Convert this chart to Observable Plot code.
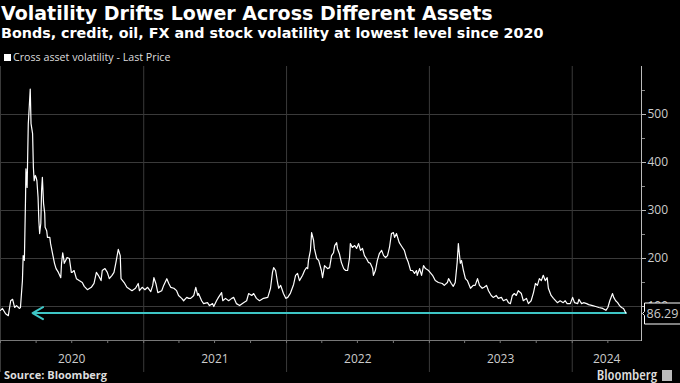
<!DOCTYPE html>
<html>
<head>
<meta charset="utf-8">
<script src="https://cdn.jsdelivr.net/npm/d3@7"></script>
<script src="https://cdn.jsdelivr.net/npm/@observablehq/plot@0.6"></script>
<style>
  html, body { margin: 0; padding: 0; background: #000; }
  #wrap { position: relative; width: 680px; height: 383px; overflow: hidden; background: #000; font-family: "Open Sans", sans-serif; color: #fff; }
  #title { position: absolute; left: 1px; top: 2px; font-family: "DejaVu Sans", sans-serif; font-weight: 700; font-size: 19px; line-height: 22px; white-space: nowrap; }
  #subtitle { position: absolute; left: 1px; top: 24px; font-family: "DejaVu Sans", sans-serif; font-weight: 700; font-size: 14.3px; line-height: 18px; white-space: nowrap; }
  #legend { position: absolute; left: 4px; top: 50px; font-size: 10.7px; line-height: 14px; color: #ddd; white-space: nowrap; }
  #legend .sw { display: inline-block; width: 7px; height: 7px; background: #fff; margin-right: 2px; vertical-align: 0px; }
  #chart { position: absolute; left: 0; top: 66px; }
  #source { position: absolute; left: 4px; top: 368px; font-weight: 700; font-size: 11px; line-height: 14px; color: #ddd; white-space: nowrap; }
  #brand { position: absolute; right: 8px; top: 366px; font-weight: 600; font-size: 15px; font-stretch: 75%; line-height: 16px; color: #ddd; white-space: nowrap; }
  #brand .ic { display: inline-block; width: 10px; height: 11px; background: #bbb; margin-left: 5px; vertical-align: -1px; }
</style>
</head>
<body>
<div id="wrap">
  <div id="title">Volatility Drifts Lower Across Different Assets</div>
  <div id="subtitle">Bonds, credit, oil, FX and stock volatility at lowest level since 2020</div>
  <div id="legend"><span class="sw"></span>Cross asset volatility - Last Price</div>
  <div id="chart"></div>
  <div id="source">Source: Bloomberg</div>
  <div id="brand">Bloomberg<span class="ic"></span></div>
</div>
<script>
const dates = [
  "2020-01-01","2020-01-06","2020-01-14","2020-01-21","2020-01-27","2020-02-01","2020-02-06","2020-02-11","2020-02-18","2020-02-21",
  "2020-02-26","2020-02-28","2020-03-02","2020-03-05","2020-03-06","2020-03-09","2020-03-12","2020-03-13","2020-03-17","2020-03-19",
  "2020-03-23","2020-03-25","2020-03-27","2020-03-30","2020-04-01","2020-04-03","2020-04-06","2020-04-08","2020-04-10","2020-04-13",
  "2020-04-15","2020-04-17","2020-04-20","2020-04-23","2020-04-24","2020-04-28","2020-04-30","2020-05-06","2020-05-08","2020-05-13",
  "2020-05-18","2020-05-22","2020-05-28","2020-06-03","2020-06-05","2020-06-08","2020-06-10","2020-06-12","2020-06-18","2020-06-19",
  "2020-06-25","2020-06-30","2020-07-02","2020-07-07","2020-07-13","2020-07-20","2020-07-28","2020-08-02","2020-08-10","2020-08-20",
  "2020-08-27","2020-09-02","2020-09-07","2020-09-14","2020-09-17","2020-09-24","2020-09-30","2020-10-05","2020-10-12","2020-10-17",
  "2020-10-22","2020-10-28","2020-11-02","2020-11-04","2020-11-12","2020-11-19","2020-12-02","2020-12-11","2020-12-18","2020-12-21",
  "2020-12-28",
  "2021-01-04","2021-01-11","2021-01-19","2021-01-24","2021-01-27","2021-02-01","2021-02-06","2021-02-16","2021-02-21","2021-03-01",
  "2021-03-06","2021-03-11","2021-03-19","2021-03-26","2021-03-31","2021-04-08","2021-04-13","2021-04-21","2021-04-26","2021-05-01",
  "2021-05-09","2021-05-14","2021-05-19","2021-05-21","2021-05-29","2021-06-03","2021-06-13","2021-06-18","2021-06-26","2021-06-29",
  "2021-07-06","2021-07-11","2021-07-19","2021-07-22","2021-07-29","2021-08-06","2021-08-14","2021-08-19","2021-08-26","2021-09-03",
  "2021-09-13","2021-09-21","2021-09-26","2021-10-04","2021-10-09","2021-10-16","2021-10-24","2021-11-03","2021-11-14","2021-11-21",
  "2021-11-26","2021-11-29","2021-12-04","2021-12-09","2021-12-12","2021-12-17","2021-12-24","2021-12-30",
  "2022-01-04","2022-01-11","2022-01-19","2022-01-24","2022-01-29","2022-02-03","2022-02-11","2022-02-16","2022-02-21","2022-02-24",
  "2022-02-26","2022-03-03","2022-03-06","2022-03-11","2022-03-13","2022-03-19","2022-03-24","2022-03-31","2022-04-03","2022-04-08",
  "2022-04-16","2022-04-21","2022-04-26","2022-05-01","2022-05-04","2022-05-09","2022-05-11","2022-05-16","2022-05-21","2022-05-27",
  "2022-06-01","2022-06-06","2022-06-11","2022-06-13","2022-06-18","2022-06-24","2022-06-29","2022-07-04","2022-07-09","2022-07-14",
  "2022-07-19","2022-07-24","2022-07-29","2022-08-03","2022-08-09","2022-08-11","2022-08-16","2022-08-21","2022-08-26","2022-09-01",
  "2022-09-06","2022-09-11","2022-09-16","2022-09-21","2022-09-26","2022-10-01","2022-10-04","2022-10-09","2022-10-14","2022-10-16",
  "2022-10-24","2022-10-29","2022-11-03","2022-11-08","2022-11-14","2022-11-19","2022-11-24","2022-11-29","2022-12-01","2022-12-07",
  "2022-12-12","2022-12-17","2022-12-22","2022-12-30",
  "2023-01-09","2023-01-16","2023-01-24","2023-02-03","2023-02-08","2023-02-16","2023-02-19","2023-02-26","2023-03-03","2023-03-08",
  "2023-03-13","2023-03-16","2023-03-21","2023-03-24","2023-03-29","2023-04-03","2023-04-08","2023-04-16","2023-04-23","2023-04-28",
  "2023-05-04","2023-05-09","2023-05-16","2023-05-21","2023-05-27","2023-06-01","2023-06-08","2023-06-13","2023-06-21","2023-06-26",
  "2023-07-04","2023-07-09","2023-07-17","2023-07-22","2023-07-27","2023-08-01","2023-08-06","2023-08-11","2023-08-16","2023-08-24",
  "2023-08-29","2023-09-06","2023-09-11","2023-09-18","2023-09-24","2023-09-29","2023-10-04","2023-10-09","2023-10-14","2023-10-19",
  "2023-10-24","2023-10-29","2023-11-01","2023-11-08","2023-11-14","2023-11-24","2023-12-01","2023-12-09","2023-12-14","2023-12-19",
  "2023-12-27",
  "2024-01-02","2024-01-07","2024-01-15","2024-01-18","2024-01-25","2024-01-30","2024-02-07","2024-02-12","2024-02-22","2024-03-01",
  "2024-03-09","2024-03-19","2024-03-27","2024-04-01","2024-04-06","2024-04-13","2024-04-16","2024-04-21","2024-04-26","2024-05-01",
  "2024-05-06","2024-05-11","2024-05-17"
];
const values = [
  92,96,85,81,112,115,98,102,96,98,
  154,206,196,327,387,348,481,494,553,481,
  460,390,362,373,369,362,327,279,252,273,
  342,369,315,294,265,258,244,244,231,210,
  190,179,171,160,190,212,202,190,200,202,
  200,171,171,175,158,154,150,142,135,140,
  148,171,165,154,175,179,171,158,165,171,
  192,219,206,158,150,140,133,138,148,133,
  140,
  135,140,131,144,160,148,129,133,144,158,
  148,140,138,133,123,117,112,119,117,117,
  123,140,123,127,112,106,108,102,106,100,
  112,119,129,112,117,112,117,119,106,102,
  108,112,127,123,127,117,112,117,119,138,
  171,181,175,150,138,144,127,117,
  119,128,146,165,169,154,165,175,181,179,
  196,217,254,238,221,200,196,175,160,185,
  179,181,206,212,227,233,221,210,192,179,
  175,175,202,231,223,227,221,231,217,221,
  206,200,192,190,179,165,175,196,210,217,
  206,202,206,223,252,254,244,252,238,233,
  223,217,202,192,175,175,169,175,165,179,
  165,185,179,175,
  165,154,150,148,144,150,158,148,142,150,
  192,231,190,196,175,158,154,138,144,144,
  158,144,138,140,144,133,123,119,123,117,
  119,112,115,108,106,123,127,123,133,127,
  112,117,106,112,129,148,144,158,154,165,
  154,160,138,123,117,108,112,108,112,106,
  106,
  119,108,106,115,106,108,106,104,102,100,
  98,96,92,98,112,127,119,112,108,102,
  98,96,86.29
];
const lastValue = 86.29;
const lastLabel = "86.29";
const xStart = "2020-01-01";
const xEnd = "2024-06-26";
const arrowTip = "2020-03-23";
const yearStarts = ["2020-01-01","2021-01-01","2022-01-01","2023-01-01","2024-01-01"];
const yearLabelAt = ["2020-07-01","2021-07-02","2022-07-02","2023-07-02","2024-03-29"];
const yTicks = [100, 200, 300, 400, 500];
const yMinor = [150, 250, 350, 450, 550];

const data = dates.map((d, i) => ({date: new Date(d), value: values[i]}));
const lastDate = new Date(dates[dates.length - 1]);

const chart = Plot.plot({
  width: 680,
  height: 304,
  marginLeft: 0,
  marginRight: 39,
  marginTop: 0,
  marginBottom: 30,
  style: {background: "#000", color: "#ccc", fontFamily: "Open Sans, sans-serif", fontSize: "12px", overflow: "visible"},
  x: {type: "utc", domain: [new Date(xStart), new Date(xEnd)]},
  y: {domain: [29.2, 600]},
  marks: [
    Plot.gridY(yTicks, {stroke: "#3a3a3a", strokeOpacity: 1}),
    Plot.gridX(yearStarts.map(d => new Date(d)), {stroke: "#3a3a3a", strokeOpacity: 1}),
    Plot.axisX(yearStarts.map(d => new Date(d)), {anchor: "bottom", tickSize: 32, text: null, stroke: "#3a3a3a"}),
    Plot.frame({anchor: "bottom", stroke: "#777"}),
    Plot.axisX({anchor: "bottom", ticks: d3.utcMonth.every(3), tickSize: 3, text: null, stroke: "#777"}),
    Plot.axisX(yearLabelAt.map(d => new Date(d)), {anchor: "bottom", tickSize: 0, tickPadding: 14, tickFormat: "%Y", fill: "#ccc", fontSize: 12}),
    Plot.frame({anchor: "right", stroke: "#bbb"}),
    Plot.axisY(yMinor, {anchor: "right", tickSize: 3, text: null, stroke: "#888"}),
    Plot.axisY(yTicks, {anchor: "right", tickSize: 4, tickPadding: 2, stroke: "#bbb", fill: "#ccc", fontSize: 12}),
    Plot.arrow([{x1: lastDate, x2: new Date(arrowTip), y: lastValue}], {
      x1: "x1", x2: "x2", y1: "y", y2: "y", bend: 0, stroke: "#3ec6c6", strokeWidth: 2, headLength: 9, insetStart: 0, insetEnd: 0
    }),
    Plot.line(data, {x: "date", y: "value", stroke: "#fff", strokeWidth: 1.2}),
    Plot.tip([{x: new Date(xEnd), y: lastValue}], {
      x: "x", y: "y", anchor: "left", title: () => lastLabel, fill: "#000", stroke: "#fff",
      fontSize: 12.5, textPadding: 2, pointerSize: 4, pathFilter: "none", dx: 1
    })
  ]
});
document.getElementById("chart").appendChild(chart);
</script>
</body>
</html>
